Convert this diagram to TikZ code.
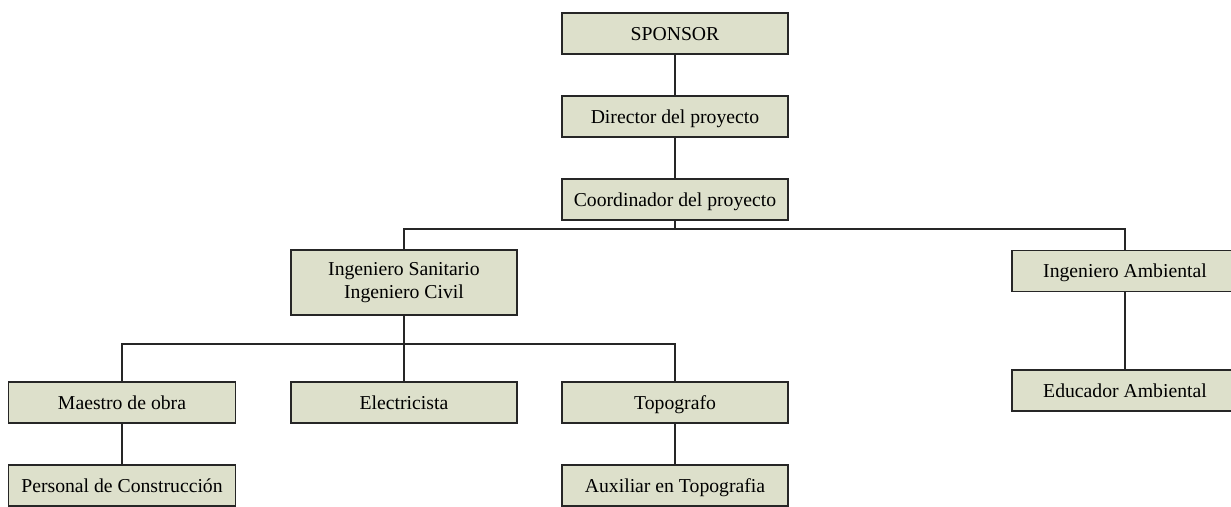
\documentclass[tikz,border=0pt]{standalone}
\usepackage{fontspec}
\setmainfont{Liberation Serif}
\begin{document}
\begin{tikzpicture}[x=1pt,y=-1pt,
  orgbox/.style={draw=black!85, line width=1.1pt, fill=boxfill, rectangle,
    minimum width=226pt, minimum height=41pt, inner sep=2pt, align=center,
    font=\fontsize{19.7pt}{23.5pt}\selectfont},
  oneline/.style={text height=16.5pt, text depth=3pt},
  link/.style={draw=black!85, line width=1.1pt}]
\definecolor{boxfill}{HTML}{DDE0CB}
\useasboundingbox (0,0) rectangle (1231,506);
\clip (0,0) rectangle (1231,506);

% top of the chart
\node[orgbox, oneline] (sponsor) at (675,33.5) {SPONSOR};
\node[orgbox, oneline] (director) at (675,116.5) {Director del proyecto};
\node[orgbox, oneline] (coord) at (675,199.5) {Coordinador del proyecto};

% engineers
\node[orgbox, minimum height=65pt] (ingsan) at (404,282.5) {Ingeniero Sanitario\\Ingeniero Civil};
\node[orgbox, oneline] (ingamb) at (1125,271) {Ingeniero Ambiental};
\node[orgbox, oneline] (educ) at (1125,390.5) {Educador Ambiental};

% field staff
\node[orgbox, oneline, minimum width=227pt] (maestro) at (122,402.5) {Maestro de obra};
\node[orgbox, oneline] (elec) at (404,402.5) {Electricista};
\node[orgbox, oneline] (topo) at (675,402.5) {Topografo};
\node[orgbox, oneline, minimum width=227pt] (personal) at (122,485.5) {Personal de Construcción};
\node[orgbox, oneline] (aux) at (675,485.5) {Auxiliar en Topografia};

% bus junctions
\coordinate (bus1) at (675,229);
\coordinate (bus2) at (404,344);

\draw[link] (sponsor.south) -- (director.north);
\draw[link] (director.south) -- (coord.north);
\draw[link] (coord.south) -- (bus1);
\draw[link] (bus1) -| (ingsan.north);
\draw[link] (bus1) -| (ingamb.north);
\draw[link] (ingamb.south) -- (educ.north);
\draw[link] (ingsan.south) -- (bus2);
\draw[link] (bus2) -| (maestro.north);
\draw[link] (bus2) -- (elec.north);
\draw[link] (bus2) -| (topo.north);
\draw[link] (maestro.south) -- (personal.north);
\draw[link] (topo.south) -- (aux.north);
\end{tikzpicture}
\end{document}
